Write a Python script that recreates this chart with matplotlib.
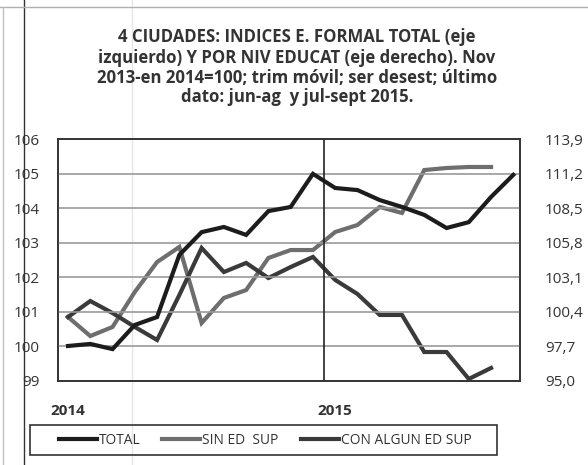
import matplotlib
matplotlib.use("Agg")
import matplotlib.pyplot as plt
from matplotlib.lines import Line2D
from matplotlib.patches import Rectangle
import numpy as np

title_lines = ["4 CIUDADES: INDICES E. FORMAL TOTAL (eje",
               "izquierdo) Y POR NIV EDUCAT (eje derecho). Nov",
               "2013-en 2014=100; trim móvil; ser desest; último",
               "dato: jun-ag  y jul-sept 2015."]

total = [100.00, 100.06, 99.91, 100.61, 100.84, 102.64, 103.30, 103.45, 103.22,
         103.91, 104.03, 104.99, 104.58, 104.52, 104.23, 104.03, 103.80, 103.42,
         103.59, 104.32, 104.96]
sin_ed_sup = [99.97, 98.48, 99.19, 101.93, 104.27, 105.45, 99.50, 101.46, 102.08,
              104.59, 105.21, 105.21, 106.62, 107.17, 108.58, 108.11, 111.47,
              111.63, 111.71, 111.71]
con_algun = [99.97, 101.22, 100.28, 99.19, 98.17, 101.69, 105.37, 103.49, 104.20,
             103.02, 103.88, 104.67, 102.87, 101.77, 100.13, 100.13, 97.23, 97.23,
             95.12, 95.98]

left_ticks = [99, 100, 101, 102, 103, 104, 105, 106]
right_ticks = [95.0, 97.7, 100.4, 103.1, 105.8, 108.5, 111.2, 113.9]
right_labels = ["95,0", "97,7", "100,4", "103,1", "105,8", "108,5", "111,2", "113,9"]
year_labels = ["2014", "2015"]
year_pos = [0, 12]
legend_labels = ['TOTAL', 'SIN ED  SUP', 'CON ALGUN ED SUP']

plt.rcParams['font.family'] = ['Open Sans', 'DejaVu Sans']

W, H = 588, 465
fig = plt.figure(figsize=(W/100, H/100), dpi=100)
renderer = fig.canvas.get_renderer()


def fit_size(s, target_px, weight='normal', base=10.0):
    t = fig.text(0, 0, s, fontsize=base, fontweight=weight)
    w = t.get_window_extent(renderer).width
    t.remove()
    return base * target_px / w


ax = fig.add_axes([58/W, 1-380.5/H, (520-58)/W, (380.5-139)/H])
ax2 = ax.twinx()

c_total = '#1c1c1c'
c_sin = '#6e6e6e'
c_con = '#3a3a3a'
lw = 3.0

x_total = np.arange(len(total))
x_sin = np.arange(len(sin_ed_sup))
x_con = np.arange(len(con_algun))

ax2.plot(x_sin, sin_ed_sup, color=c_sin, lw=lw, solid_joinstyle='miter', zorder=3)
ax2.plot(x_con, con_algun, color=c_con, lw=lw, solid_joinstyle='miter', zorder=3)
ax.plot(x_total, total, color=c_total, lw=lw, solid_joinstyle='miter', zorder=4)
ax.set_zorder(ax2.get_zorder() + 1)
ax.patch.set_visible(False)

ax.set_ylim(99, 106)
ax2.set_ylim(95.0, 113.9)
ax.set_xlim(-0.45, 20.3)

tick_fs = fit_size("113,9", 39)
year_fs = fit_size("2014", 35, weight='bold')

ax.set_yticks(left_ticks)
ax.set_yticklabels([str(t) for t in left_ticks])
ax2.set_yticks(right_ticks)
ax2.set_yticklabels(right_labels)
ax.set_xticks(year_pos)
ax.set_xticklabels(year_labels)

for t in left_ticks[1:-1]:
    ax.axhline(t, color='#9a9a9a', lw=1.2, zorder=1)
ax.axvline(11.5, color='#222222', lw=1.2, zorder=2)

ax.tick_params(axis='y', length=0, pad=13, labelsize=tick_fs, colors='#333333')
ax2.tick_params(axis='y', length=0, pad=18, labelsize=tick_fs, colors='#333333')
ax.tick_params(axis='x', length=0, pad=17, labelsize=year_fs, colors='#333333')
for lab in ax.get_xticklabels():
    lab.set_fontweight('bold')

title_fs = fit_size(title_lines[2], 400, weight='bold')
for line, yc in zip(title_lines, [35, 56, 76, 95]):
    fig.text(297/W, 1-yc/H, line, ha='center', va='center_baseline',
             fontsize=title_fs, fontweight='bold', color='#333333')

for a in (ax, ax2):
    for s in a.spines.values():
        s.set_color('#333333')
        s.set_linewidth(1.2)

leg_fs = fit_size(legend_labels[2], 130)
px_per_em = leg_fs * 100 / 72
handles = [Line2D([], [], color=c_total, lw=lw),
           Line2D([], [], color=c_sin, lw=lw),
           Line2D([], [], color=c_con, lw=lw)]
leg = fig.legend(handles, legend_labels,
                 loc='center', bbox_to_anchor=(265/W, 1-440/H), ncol=3,
                 frameon=False, fontsize=leg_fs, handlelength=38/px_per_em,
                 handletextpad=2/px_per_em, columnspacing=22/px_per_em)
for t in leg.get_texts():
    t.set_color('#333333')

fig.add_artist(Rectangle((30/W, 1-455/H), (497-30)/W, 30/H, fill=False,
                         edgecolor='#333333', lw=1.2, transform=fig.transFigure))

# outer chart border / scan lines
fig.add_artist(Line2D([24/W, 24/W], [0, 1], color='#333333', lw=1.0))
fig.add_artist(Line2D([0, 1], [1-7/H, 1-7/H], color='#b0b0b0', lw=1.0))
fig.add_artist(Line2D([3/W, 3/W], [0, 1-7/H], color='#c0c0c0', lw=1.0))
fig.add_artist(Line2D([132/W, 132/W], [0, 1], color='#e6e6e6', lw=1.0, zorder=0))

fig.savefig('out.png', dpi=100)
